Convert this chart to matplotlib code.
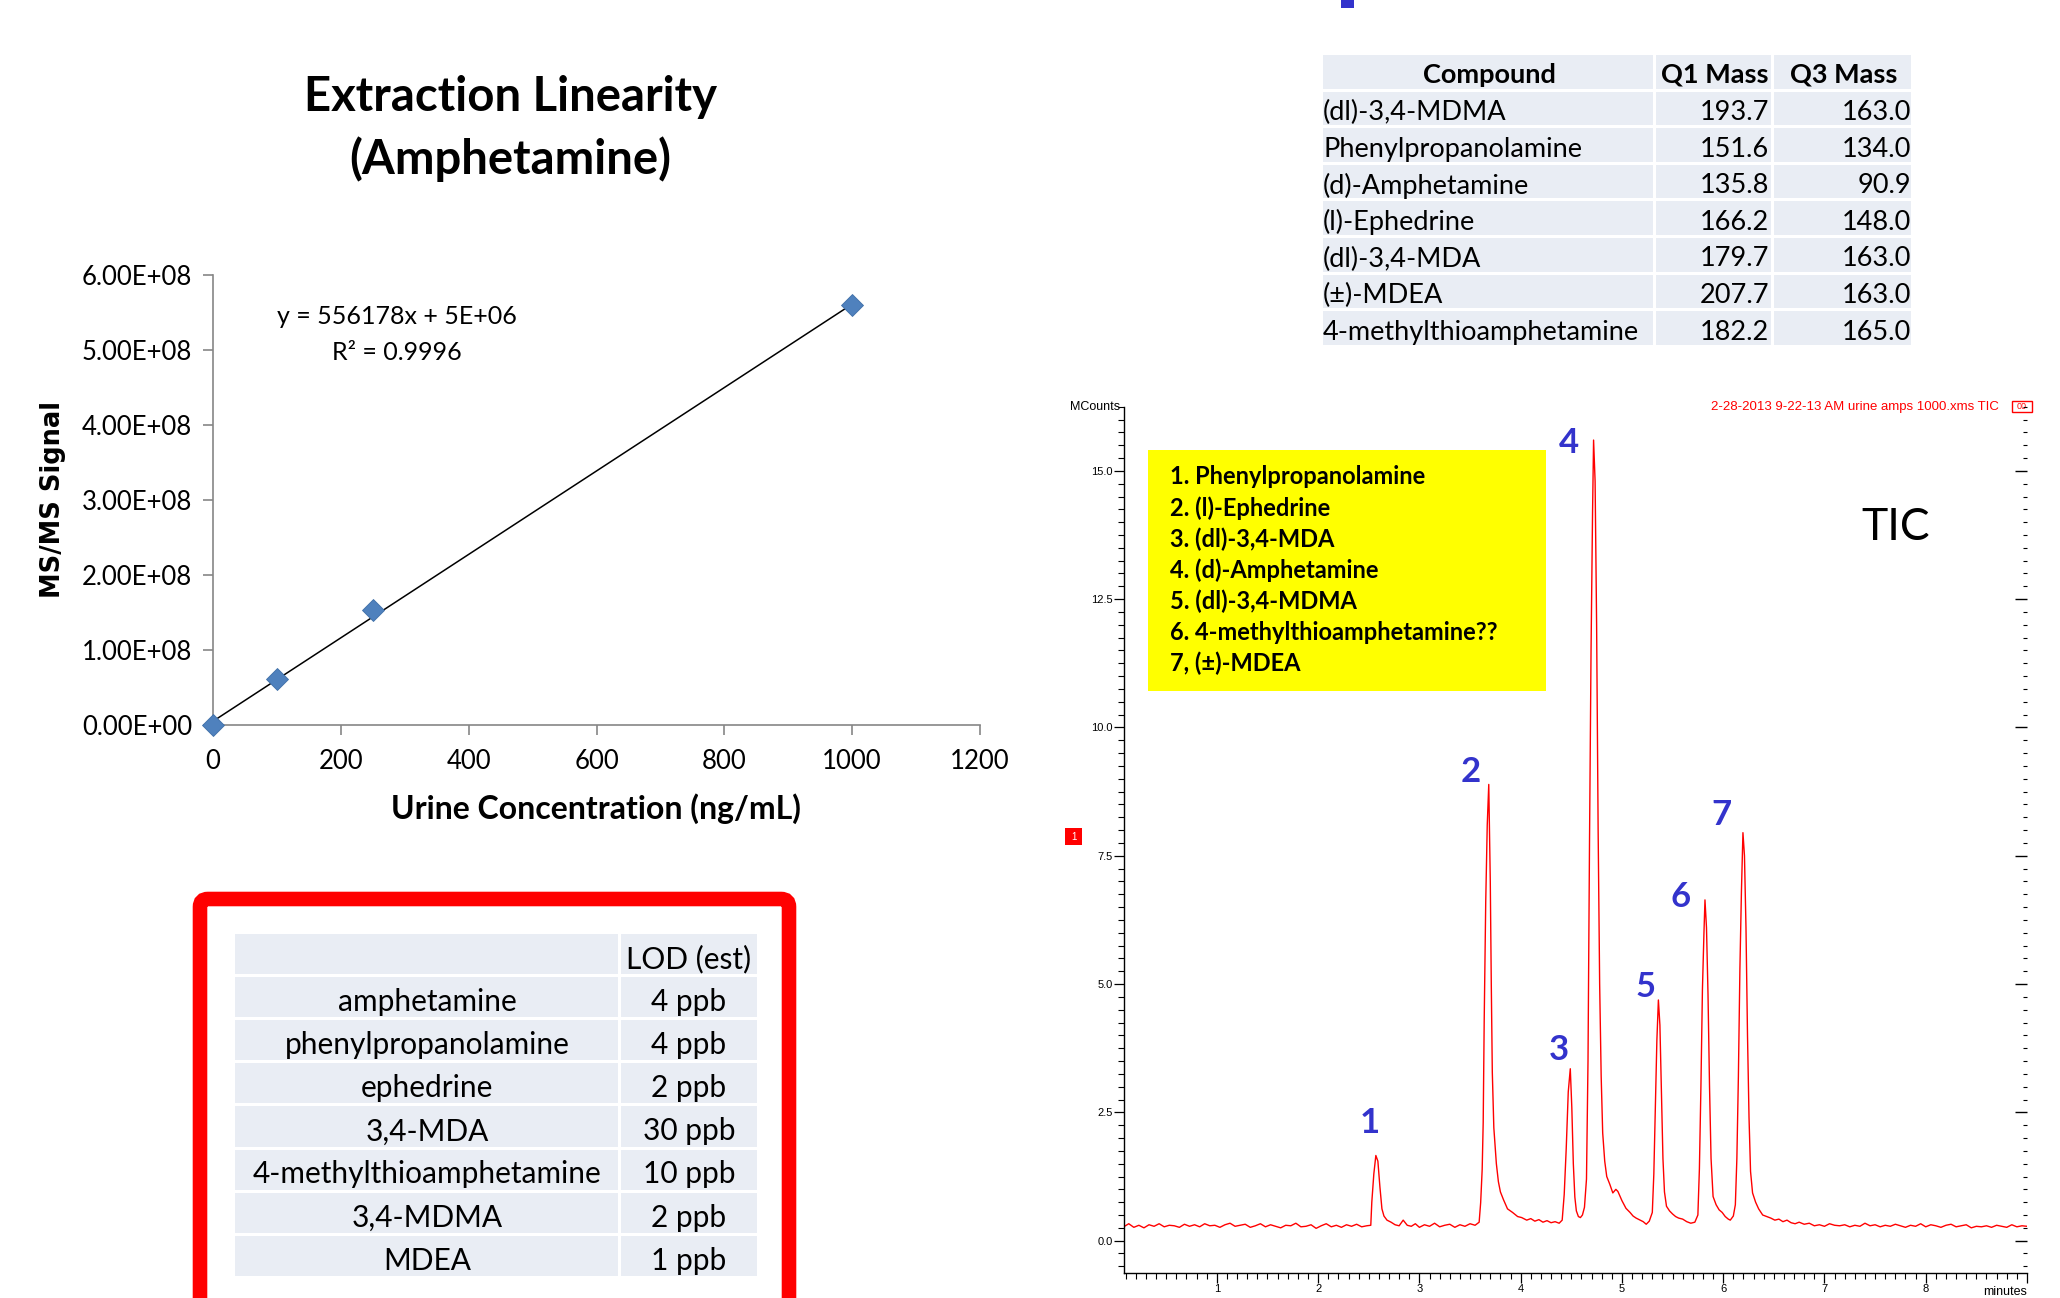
import numpy as np
import matplotlib
matplotlib.use("Agg")
import matplotlib.pyplot as plt
from matplotlib.patches import Rectangle, FancyBboxPatch
from matplotlib.ticker import MultipleLocator, FixedLocator, NullFormatter

plt.rcParams["font.family"] = ["Lato", "DejaVu Sans"]

# --- linearity data ---
conc = [0, 100, 250, 1000]
signal = [0.0, 6.2e7, 1.53e8, 5.6e8]
slope, intercept = 556178, 5e6
fit_x = [0, 1000]

# --- LOD table ---
lod_names = ["amphetamine", "phenylpropanolamine", "ephedrine", "3,4-MDA",
             "4-methylthioamphetamine", "3,4-MDMA", "MDEA"]
lod_vals = ["4 ppb", "4 ppb", "2 ppb", "30 ppb", "10 ppb", "2 ppb", "1 ppb"]

# --- transitions table ---
compounds = ["(dl)-3,4-MDMA", "Phenylpropanolamine", "(d)-Amphetamine", "(l)-Ephedrine",
             "(dl)-3,4-MDA", "(\u00b1)-MDEA", "4-methylthioamphetamine"]
q1_mass = ["193.7", "151.6", "135.8", "166.2", "179.7", "207.7", "182.2"]
q3_mass = ["163.0", "134.0", "90.9", "148.0", "163.0", "163.0", "165.0"]

peak_names = ["1. Phenylpropanolamine", "2. (l)-Ephedrine", "3. (dl)-3,4-MDA",
              "4. (d)-Amphetamine", "5. (dl)-3,4-MDMA", "6. 4-methylthioamphetamine??",
              "7, (\u00b1)-MDEA"]

# --- TIC trace (minutes, MCounts) ---
tic_minutes = [
    0.08, 0.13, 0.18, 0.23, 0.28, 0.33, 0.38, 0.43, 0.48, 0.53,
    0.58, 0.63, 0.68, 0.73, 0.78, 0.83, 0.88, 0.93, 0.98, 1.03,
    1.08, 1.13, 1.18, 1.23, 1.28, 1.33, 1.38, 1.43, 1.48, 1.53,
    1.58, 1.63, 1.68, 1.73, 1.78, 1.83, 1.88, 1.93, 1.98, 2.03,
    2.08, 2.13, 2.18, 2.23, 2.28, 2.33, 2.38, 2.43, 2.48,
    2.52, 2.53, 2.55, 2.57, 2.59, 2.61, 2.63, 2.65, 2.68, 2.72, 2.76, 2.80, 2.84, 2.88,
    2.92, 2.96, 3.00, 3.05, 3.10, 3.15, 3.20, 3.25, 3.30, 3.35, 3.40, 3.45, 3.50, 3.55,
    3.59, 3.605, 3.62, 3.63, 3.64, 3.655, 3.67, 3.685, 3.70, 3.71, 3.72, 3.735, 3.76,
    3.78, 3.80, 3.83, 3.87, 3.92, 3.97, 4.01, 4.06, 4.10, 4.14, 4.18, 4.22, 4.26, 4.30,
    4.34, 4.38,
    4.41, 4.43, 4.45, 4.47, 4.49, 4.505, 4.52, 4.535, 4.55, 4.57, 4.59, 4.61, 4.63,
    4.65, 4.665, 4.68, 4.695, 4.71, 4.72, 4.735, 4.75, 4.765, 4.78, 4.795, 4.81, 4.83,
    4.85, 4.88, 4.91, 4.94, 4.96, 5.00, 5.04, 5.08, 5.11, 5.14, 5.18, 5.21, 5.24, 5.27,
    5.30, 5.315, 5.33, 5.345, 5.36, 5.375, 5.39, 5.405, 5.42, 5.44, 5.47, 5.50, 5.53,
    5.56, 5.60, 5.64, 5.68, 5.72, 5.75, 5.765, 5.78, 5.795, 5.81, 5.82, 5.835, 5.85,
    5.865, 5.88, 5.90, 5.93, 5.96, 5.99, 6.02, 6.05, 6.07, 6.10,
    6.12, 6.135, 6.15, 6.165, 6.18, 6.195, 6.21, 6.225, 6.24, 6.255, 6.27, 6.29, 6.32,
    6.35, 6.39, 6.43, 6.47, 6.51, 6.55, 6.59, 6.63, 6.67, 6.71, 6.75,
    6.80, 6.85, 6.90, 6.95, 7.00, 7.05, 7.10, 7.15, 7.20, 7.25,
    7.30, 7.35, 7.40, 7.45, 7.50, 7.55, 7.60, 7.65, 7.70, 7.75,
    7.80, 7.85, 7.90, 7.95, 8.00, 8.05, 8.10, 8.15, 8.20, 8.25,
    8.30, 8.35, 8.40, 8.45, 8.50, 8.55, 8.60, 8.65, 8.70, 8.75,
    8.80, 8.85, 8.90, 8.95, 9.00,
]
tic_mcounts = [
    0.27, 0.33, 0.26, 0.30, 0.25, 0.31, 0.28, 0.33, 0.27, 0.30,
    0.29, 0.26, 0.32, 0.28, 0.31, 0.27, 0.33, 0.29, 0.30, 0.26,
    0.31, 0.34, 0.28, 0.30, 0.32, 0.26, 0.29, 0.33, 0.27, 0.31,
    0.28, 0.25, 0.30, 0.29, 0.34, 0.27, 0.28, 0.31, 0.24, 0.29,
    0.33, 0.27, 0.30, 0.26, 0.31, 0.28, 0.32, 0.27, 0.29,
    0.30, 0.75, 1.30, 1.66, 1.55, 1.05, 0.62, 0.48, 0.40, 0.36, 0.31, 0.29, 0.40, 0.30,
    0.28, 0.33, 0.26, 0.31, 0.28, 0.34, 0.27, 0.30, 0.32, 0.26, 0.31, 0.28, 0.33, 0.30,
    0.36, 0.74, 1.39, 2.30, 4.30, 6.60, 8.10, 8.89, 7.00, 4.98, 3.28, 2.20, 1.50,
    1.15, 0.95, 0.80, 0.62, 0.55, 0.47, 0.45, 0.40, 0.43, 0.38, 0.41, 0.36, 0.39, 0.35,
    0.37, 0.34,
    0.40, 0.90, 1.80, 2.90, 3.35, 2.60, 1.50, 0.85, 0.58, 0.47, 0.45, 0.50, 0.65,
    1.20, 3.50, 7.80, 11.50, 14.20, 15.60, 14.80, 12.00, 8.00, 5.00, 3.20, 2.10, 1.55,
    1.25, 1.10, 0.93, 1.00, 0.96, 0.78, 0.63, 0.55, 0.48, 0.44, 0.40, 0.37, 0.32, 0.38,
    0.55, 1.30, 2.60, 3.90, 4.69, 4.20, 2.90, 1.60, 0.95, 0.67, 0.58, 0.52, 0.47,
    0.44, 0.42, 0.37, 0.34, 0.36, 0.50, 1.40, 3.00, 4.90, 6.00, 6.64, 6.10, 4.80,
    3.00, 1.60, 0.86, 0.70, 0.60, 0.55, 0.47, 0.42, 0.40, 0.48,
    0.70, 1.60, 3.20, 5.30, 6.80, 7.95, 7.50, 6.10, 4.00, 2.40, 1.35, 0.93, 0.75,
    0.62, 0.50, 0.47, 0.44, 0.40, 0.42, 0.37, 0.40, 0.35, 0.33, 0.36,
    0.32, 0.34, 0.29, 0.31, 0.28, 0.33, 0.30, 0.29, 0.31, 0.27,
    0.30, 0.28, 0.34, 0.29, 0.31, 0.27, 0.30, 0.28, 0.32, 0.29,
    0.26, 0.30, 0.28, 0.33, 0.27, 0.31, 0.29, 0.26, 0.30, 0.32,
    0.27, 0.29, 0.31, 0.25, 0.28, 0.27, 0.29, 0.26, 0.30, 0.28,
    0.26, 0.31, 0.27, 0.29, 0.28,
]
peak_labels = ["1", "2", "3", "4", "5", "6", "7"]
peak_label_t = [2.51, 3.51, 4.38, 4.48, 5.23, 5.58, 5.98]
peak_label_y = [2.29, 9.13, 3.72, 15.55, 4.94, 6.69, 8.29]

W, H = 2060, 1298
fig = plt.figure(figsize=(W / 100, H / 100), dpi=100)

# pixel-space background layer for the slide bits
bg = fig.add_axes([0, 0, 1, 1])
bg.set_xlim(0, W)
bg.set_ylim(H, 0)
bg.axis("off")

cell_fill = "#E9EDF4"


def draw_table(cols, rows, gap=3):
    for i in range(len(rows) - 1):
        for j in range(len(cols) - 1):
            bg.add_patch(Rectangle((cols[j], rows[i]), cols[j + 1] - cols[j] - gap,
                                   rows[i + 1] - rows[i] - gap, facecolor=cell_fill,
                                   edgecolor="none"))


# ---------------- linearity chart ----------------
fig.text(510 / W, 1 - 97 / H, "Extraction Linearity", ha="center", va="center",
         fontsize=34, fontweight="bold")
fig.text(510 / W, 1 - 159 / H, "(Amphetamine)", ha="center", va="center",
         fontsize=34, fontweight="bold")

ax1 = fig.add_axes([213 / W, 1 - 725 / H, (980 - 213) / W, (725 - 275) / H])
ax1.set_facecolor("none")
ax1.plot(fit_x, [slope * x + intercept for x in fit_x], color="black", lw=1.1, zorder=2)
ax1.plot(conc, signal, "D", color="#4F81BD", ms=11, mec="#3F6FA8", mew=0.6,
         zorder=3, clip_on=False)
ax1.set_xlim(0, 1200)
ax1.set_ylim(0, 6e8)
ax1.set_xticks(range(0, 1201, 200))
ax1.set_yticks([k * 1e8 for k in range(7)])
ax1.set_yticklabels([f"{k * 1e8:.2E}" for k in range(7)])
for s in ["top", "right"]:
    ax1.spines[s].set_visible(False)
for s in ["left", "bottom"]:
    ax1.spines[s].set_color("#868686")
    ax1.spines[s].set_linewidth(1.2)
ax1.tick_params(direction="out", length=7, width=1.2, color="#868686",
                labelsize=18.5, labelcolor="black")
ax1.tick_params(axis="y", pad=8)
ax1.tick_params(axis="x", pad=10)
fig.text(596 / W, 1 - 809 / H, "Urine Concentration (ng/mL)", ha="center", va="center",
         fontsize=23, fontweight="bold")
fig.text(53 / W, 1 - 500 / H, "MS/MS Signal", rotation=90, ha="center", va="center",
         fontsize=18.5, fontweight="bold", family="DejaVu Sans")
bg.text(397, 316, "y = 556178x + 5E+06", ha="center", va="center", fontsize=18)
bg.text(397, 352, "R\u00b2 = 0.9996", ha="center", va="center", fontsize=18)

# ---------------- LOD table in red frame ----------------
bg.add_patch(FancyBboxPatch((200, 899), 589, 460, boxstyle="round,pad=0,rounding_size=8",
                            facecolor="white", edgecolor="#FF0000", linewidth=10.5,
                            clip_on=False))
lod_cols = [235, 621, 760]
lod_rows = [934 + 43.1 * k for k in range(9)]
draw_table(lod_cols, lod_rows)
bg.text(689, lod_rows[0] + 25, "LOD (est)", ha="center", va="center", fontsize=21.5)
for i, (n, v) in enumerate(zip(lod_names, lod_vals)):
    yc = lod_rows[i + 1] + 25
    bg.text(427, yc, n, ha="center", va="center", fontsize=21.5)
    bg.text(689, yc, v, ha="center", va="center", fontsize=21.5)

# ---------------- transitions table ----------------
bg.add_patch(Rectangle((1341, 0), 13, 8, facecolor="#3333CC", edgecolor="none"))
tc = [1323, 1656, 1774, 1914]
tr = [55 + 36.6 * k for k in range(9)]
draw_table(tc, tr)
hy = tr[0] + 20
bg.text((tc[0] + tc[1]) / 2, hy, "Compound", ha="center", va="center", fontsize=19.5,
        fontweight="bold")
bg.text((tc[1] + tc[2]) / 2, hy, "Q1 Mass", ha="center", va="center", fontsize=19.5,
        fontweight="bold")
bg.text((tc[2] + tc[3]) / 2, hy, "Q3 Mass", ha="center", va="center", fontsize=19.5,
        fontweight="bold")
for i in range(len(compounds)):
    yc = tr[i + 1] + 21
    bg.text(tc[0], yc, compounds[i], ha="left", va="center", fontsize=19.5)
    bg.text(tc[2] - 5, yc, q1_mass[i], ha="right", va="center", fontsize=19.5)
    bg.text(tc[3] - 3, yc, q3_mass[i], ha="right", va="center", fontsize=19.5)

# ---------------- chromatogram ----------------
small = dict(family=["Liberation Sans", "DejaVu Sans"], fontsize=8)
ax2 = fig.add_axes([1124 / W, 1 - 1273 / H, (2027 - 1124) / W, (1273 - 406.7) / H])
ax2.set_facecolor("none")
ax2.plot(tic_minutes, tic_mcounts, color="#FF0000", lw=1.0)
ax2.set_xlim(0.083, 9.0)
ax2.set_ylim(-0.63, 16.25)
for s in ["top", "right"]:
    ax2.spines[s].set_visible(False)
ax2.spines["left"].set_linewidth(1.0)
ax2.spines["bottom"].set_linewidth(1.0)
ax2.yaxis.set_major_locator(FixedLocator([0, 2.5, 5, 7.5, 10, 12.5, 15]))
ax2.yaxis.set_minor_locator(MultipleLocator(0.25))
ax2.set_yticklabels(["0.0", "2.5", "5.0", "7.5", "10.0", "12.5", "15.0"], **small)
ax2.xaxis.set_major_locator(FixedLocator(range(1, 10)))
ax2.xaxis.set_minor_locator(MultipleLocator(0.1))
ax2.set_xticklabels(["1", "2", "3", "4", "5", "6", "7", "8", ""], **small)
ax2.tick_params(which="major", direction="out", length=7, width=0.9, pad=1)
ax2.tick_params(which="minor", direction="out", length=4, width=0.8)
ax2.text(-0.004, 16.25, "MCounts", transform=ax2.get_yaxis_transform(), ha="right",
         va="center", family=["Liberation Sans", "DejaVu Sans"], fontsize=9)
ax2.text(1.0, -0.015, "minutes", transform=ax2.transAxes, ha="right", va="top",
         family=["Liberation Sans", "DejaVu Sans"], fontsize=9)

# right-hand inward ticks
ax3 = ax2.twinx()
ax3.set_ylim(-0.63, 16.25)
for s in ax3.spines.values():
    s.set_visible(False)
ax3.yaxis.set_major_locator(FixedLocator([0, 2.5, 5, 7.5, 10, 12.5, 15]))
ax3.yaxis.set_minor_locator(MultipleLocator(0.25))
ax3.yaxis.set_major_formatter(NullFormatter())
ax3.tick_params(which="major", direction="in", length=9, width=1.0)
ax3.tick_params(which="minor", direction="in", length=3, width=0.8)

for lab, t, y in zip(peak_labels, peak_label_t, peak_label_y):
    ax2.text(t, y, lab, ha="center", va="center", fontsize=25, fontweight="bold",
             color="#3333CC")

# header text of the chromatogram
bg.text(1999, 407, "2-28-2013 9-22-13 AM urine amps 1000.xms TIC", ha="right",
        va="center", color="#FF0000",
        family=["Liberation Sans Narrow", "Liberation Sans", "DejaVu Sans"], fontsize=9.5)
bg.add_patch(Rectangle((2012, 401), 20, 11, facecolor="white", edgecolor="#FF0000", lw=1))
bg.text(2022, 406.5, "00", ha="center", va="center", color="#FF0000",
        family=["Liberation Sans", "DejaVu Sans"], fontsize=6.5)
bg.add_patch(Rectangle((1065, 828), 17, 17, facecolor="#FF0000", edgecolor="none"))
bg.text(1073.5, 836.5, "1", ha="center", va="center", color="white",
        family=["Liberation Sans", "DejaVu Sans"], fontsize=7)

# yellow legend box
bg.add_patch(Rectangle((1148, 450), 398, 241, facecolor="#FFFF00", edgecolor="none"))
for k, name in enumerate(peak_names):
    bg.text(1170, 477 + 31.1 * k, name, ha="left", va="center", fontsize=17,
            fontweight="bold")
bg.text(1896, 527, "TIC", ha="center", va="center", fontsize=32)

fig.savefig("out.png", dpi=100)
